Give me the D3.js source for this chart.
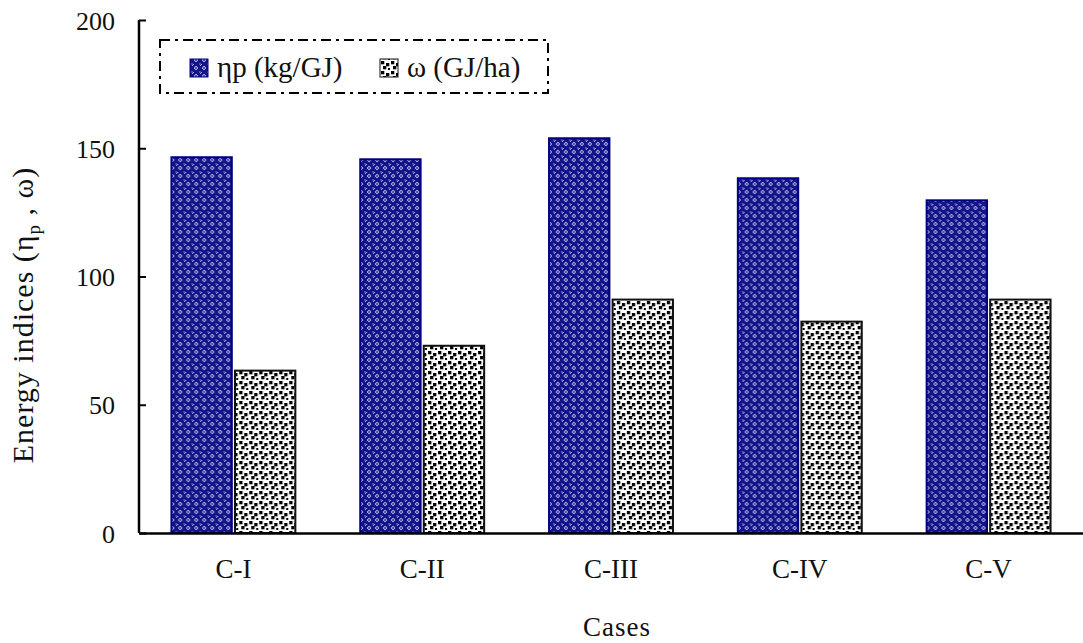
<!DOCTYPE html>
<html lang="en">
<head>
    <meta charset="UTF-8">
    <title>Energy indices</title>
    <script src="https://d3js.org/d3.v7.min.js"></script>
    <style>
        body, html {
            margin: 0;
            background-color: #ffffff;
        }
    </style>
</head>
<body>
<svg id="chart"></svg>

<script>
    // data
    const cases = ["C-I", "C-II", "C-III", "C-IV", "C-V"];
    const seriesKeys = ["eta", "omega"];
    const seriesNames = ["ηp (kg/GJ)", "ω (GJ/ha)"];
    const etaValues = [146.5, 145.7, 153.9, 138.3, 129.7];
    const omegaValues = [63.3, 73.0, 91.0, 82.4, 91.0];
    const yTicks = [0, 50, 100, 150, 200];

    const FONT = "'Liberation Serif', 'Times New Roman', serif";
    const W = 1083, H = 643;
    const margin = { top: 20, right: 0, bottom: 110, left: 139 },
        width = W - margin.left - margin.right,
        height = 533 - margin.top;

    const root = d3.select("#chart").attr("width", W).attr("height", H);

    // patterns
    const defs = root.append("defs");
    const pBlue = defs.append("pattern").attr("id", "pat-blue")
        .attr("patternUnits", "userSpaceOnUse").attr("width", 8).attr("height", 8);
    pBlue.append("rect").attr("width", 8).attr("height", 8).attr("fill", "#14148a");
    [[0, 0], [4, 4]].forEach(([cx, cy]) => {
        pBlue.append("path")
            .attr("d", `M${cx},${cy - 2}L${cx + 2},${cy}L${cx},${cy + 2}L${cx - 2},${cy}Z`)
            .attr("fill", "none").attr("stroke", "#a8a8e0").attr("stroke-width", 1);
    });
    [[0, 0], [8, 0], [0, 8], [8, 8], [4, 4]].forEach(([cx, cy]) => {
        pBlue.append("rect").attr("x", cx - 0.5).attr("y", cy - 0.5).attr("width", 1).attr("height", 1).attr("fill", "#ffffff");
    });

    const pDot = defs.append("pattern").attr("id", "pat-dot")
        .attr("patternUnits", "userSpaceOnUse").attr("width", 10).attr("height", 10);
    pDot.append("rect").attr("width", 10).attr("height", 10).attr("fill", "#ffffff");
    [[1, 1], [6, 3], [3, 6], [8, 8]].forEach(([x, y]) => {
        pDot.append("rect").attr("x", x).attr("y", y).attr("width", 3.3).attr("height", 3.3).attr("fill", "#000");
    });

    const svg = root.append("g").attr("transform", `translate(${margin.left},${margin.top})`);

    const x0 = d3.scaleBand().domain(cases).range([0, width])
        .paddingInner(0.31).paddingOuter(0.155);
    const x1 = d3.scaleBand().domain(seriesKeys).range([0, x0.bandwidth()]).padding(0.05);
    const y = d3.scaleLinear().domain([0, 200]).range([height, 0]);

    const fills = { eta: "url(#pat-blue)", omega: "url(#pat-dot)" };
    const strokes = { eta: "#000080", omega: "#111" };

    const rows = cases.map((c, i) => ({
        name: c,
        values: [
            { key: "eta", value: etaValues[i] },
            { key: "omega", value: omegaValues[i] }
        ]
    }));

    const groups = svg.selectAll(".group").data(rows).enter().append("g")
        .attr("class", "group")
        .attr("transform", d => `translate(${x0(d.name)},0)`);

    groups.selectAll("rect").data(d => d.values).enter().append("rect")
        .attr("x", d => x1(d.key))
        .attr("y", d => y(d.value))
        .attr("width", x1.bandwidth())
        .attr("height", d => height - y(d.value))
        .attr("fill", d => fills[d.key])
        .attr("stroke", d => strokes[d.key])
        .attr("stroke-width", 2);

    // y axis (ticks inward)
    const yAxis = svg.append("g")
        .call(d3.axisRight(y).tickValues(yTicks).tickSize(7).tickFormat(d3.format("d")));
    yAxis.select(".domain").attr("d", `M0,0V${height}`).attr("stroke", "#000").attr("stroke-width", 2.5);
    yAxis.selectAll(".tick line").attr("stroke", "#000").attr("stroke-width", 2);
    yAxis.selectAll(".tick text")
        .attr("x", -24).attr("text-anchor", "end").attr("dy", "0.35em")
        .attr("fill", "#111")
        .style("font-family", FONT).style("font-size", "26px");

    // x axis
    const xAxis = svg.append("g").attr("transform", `translate(0,${height})`)
        .call(d3.axisBottom(x0).tickSize(0));
    xAxis.select(".domain").attr("stroke", "#000").attr("stroke-width", 2.5);
    xAxis.selectAll(".tick text").attr("y", 45).attr("dy", "0")
        .attr("fill", "#111")
        .style("font-family", FONT).style("font-size", "27px");

    // axis titles
    root.append("text")
        .attr("x", margin.left + width / 2 + 6).attr("y", 636)
        .attr("text-anchor", "middle")
        .attr("fill", "#111")
        .style("font-family", FONT).style("font-size", "27px").style("letter-spacing", "1px")
        .text("Cases");

    const yt = root.append("text")
        .attr("transform", `translate(33,315) rotate(-90)`)
        .attr("text-anchor", "middle")
        .attr("fill", "#111")
        .style("font-family", FONT).style("font-size", "30px").style("letter-spacing", "1px");
    yt.append("tspan").text("Energy indices (η");
    yt.append("tspan").attr("dy", 7).style("font-size", "19px").text("p");
    yt.append("tspan").attr("dy", -7).text(" , ω)");

    // legend
    const lg = root.append("g").attr("transform", "translate(160,40)");
    lg.append("rect").attr("width", 388).attr("height", 53)
        .attr("fill", "#fff").attr("stroke", "#000").attr("stroke-width", 2)
        .attr("stroke-dasharray", "10,5,3,5");
    const legendX = [30, 220];
    seriesKeys.forEach((k, i) => {
        lg.append("rect").attr("x", legendX[i]).attr("y", 19).attr("width", 18).attr("height", 18)
            .attr("fill", fills[k]).attr("stroke", strokes[k]).attr("stroke-width", 1);
        lg.append("text").attr("x", legendX[i] + 27).attr("y", 37)
            .attr("fill", "#111")
            .style("font-family", FONT).style("font-size", "29px").text(seriesNames[i]);
    });
</script>
</body>
</html>
